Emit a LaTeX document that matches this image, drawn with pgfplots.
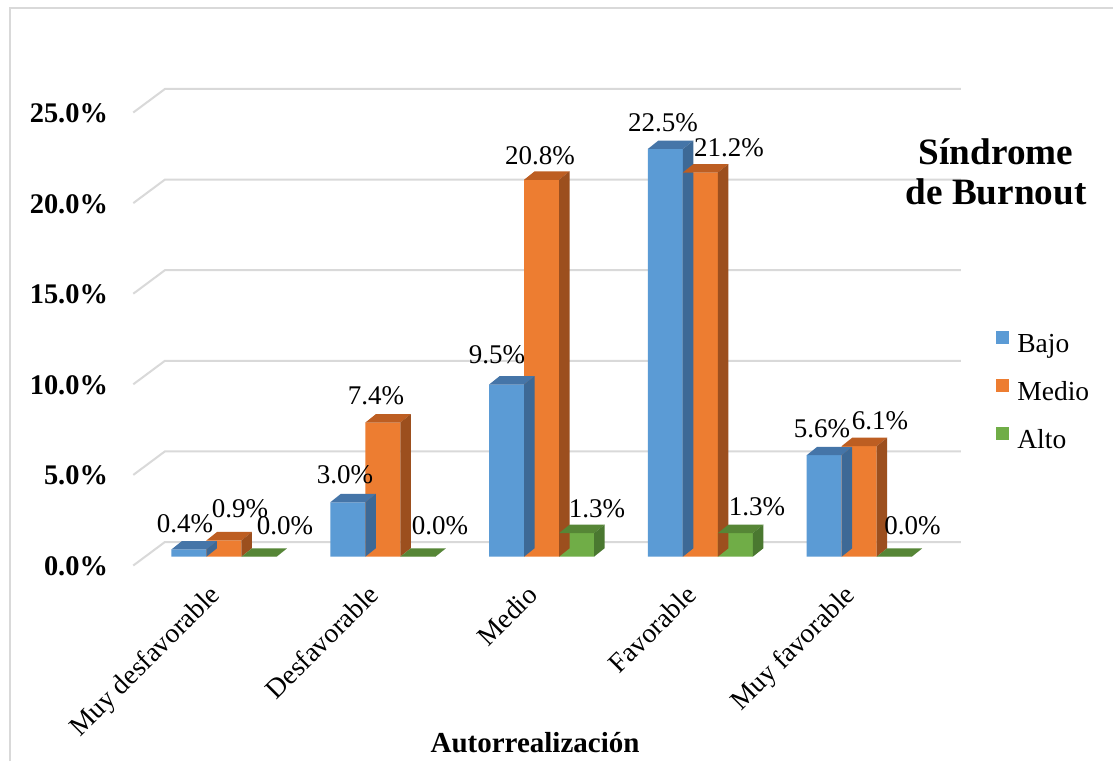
\documentclass[border=0pt]{standalone}
\usepackage{fontspec}
\setmainfont{Liberation Serif}
\usepackage{pgfplots}
\pgfplotsset{compat=1.18}
\usepackage{pgfplotstable}

\definecolor{bajo}{HTML}{5B9BD5}
\definecolor{bajotop}{HTML}{4575A8}
\definecolor{bajoside}{HTML}{3D6996}
\definecolor{medio}{HTML}{ED7D31}
\definecolor{mediotop}{HTML}{BD5E22}
\definecolor{medioside}{HTML}{9C4F1E}
\definecolor{alto}{HTML}{70AD47}
\definecolor{altotop}{HTML}{568636}
\definecolor{altoside}{HTML}{4A7830}
\definecolor{gridgray}{HTML}{D9D9D9}

\pgfkeys{/pgf/number format/assume math mode=true}

% v = percentage; ldx, ldy = offset of the value label (pt) from the top of the bar
\pgfplotstableread{
x v ldx ldy
0 0.4 -2.0 8.7
1 3.0 -1.4 9.65
2 9.5 -4.8 10.3
3 22.5 -1.2 8.5
4 5.6 -1.1 9.1
}\bajo
\pgfplotstableread{
x v ldx ldy
0 0.9 8.0 11.2
1 7.4 -3.4 8.8
2 20.8 -0.8 7.4
3 21.2 14.3 7.8
4 6.1 10.4 8.1
}\medio
\pgfplotstableread{
x v ldx ldy
0 0.0 13.0 10.9
1 0.0 11.1 10.9
2 1.3 10.2 8.05
3 1.3 10.8 9.05
4 0.0 9.2 10.9
}\alto

\pgfdeclareplotmark{none3d}{}
\pgfplotsset{
  % top and side faces of a box whose front face is a bar of width 17.5pt;
  % the bar height comes from the point meta (0..25 mapped to 0..1000)
  faces3d/.style 2 args={
    scatter, only marks, mark=none3d, forget plot, point meta=explicit,
    scatter/@pre marker code/.code={%
      \pgfmathsetmacro\barh{\pgfplotspointmetatransformed*0.2265}%
      \pgfscope
      \pgfsetfillcolor{#1}%
      \pgfpathmoveto{\pgfpoint{-8.75pt}{0pt}}%
      \pgfpathlineto{\pgfpoint{8.75pt}{0pt}}%
      \pgfpathlineto{\pgfpoint{14pt}{4.2pt}}%
      \pgfpathlineto{\pgfpoint{-3.5pt}{4.2pt}}%
      \pgfpathclose
      \pgfusepath{fill}%
      \pgfsetfillcolor{#2}%
      \pgfpathmoveto{\pgfpoint{8.75pt}{0pt}}%
      \pgfpathlineto{\pgfpoint{14pt}{4.2pt}}%
      \pgfpathlineto{\pgfpoint{14pt}{4.2pt-\barh*1pt}}%
      \pgfpathlineto{\pgfpoint{8.75pt}{-\barh*1pt}}%
      \pgfpathclose
      \pgfusepath{fill}%
      \endpgfscope
    },
    scatter/@post marker code/.code={},
  },
  front/.style={ybar, bar width=17.5pt, bar shift=0pt, fill=#1, draw=none, forget plot},
  vallabels/.style={
    only marks, mark=none3d, forget plot, point meta=explicit,
    nodes near coords={\pgfmathprintnumber[fixed,fixed zerofill,precision=1]{\pgfplotspointmeta}\%},
    every node near coord/.append style={anchor=base, inner sep=0pt, text=black,
      font=\fontsize{13.5pt}{15pt}\selectfont},
  },
  gridline/.style={gridgray, line width=1pt, forget plot},
}

\begin{document}
\begin{tikzpicture}
\useasboundingbox (0,0) rectangle (556.5pt,380.5pt);
\fill[white] (0,0) rectangle (556.5pt,380.5pt);
\draw[gridgray, line width=0.8pt] (5pt,0pt) -- (5pt,376.5pt) -- (556.5pt,376.5pt);

\begin{axis}[
  at={(66.65pt,97.75pt)}, anchor=south west,
  x=79.4pt, y=9.06pt,
  xmin=-0.571, xmax=4.641, ymin=-0.487, ymax=25.81,
  enlargelimits=false, clip=false,
  point meta min=0, point meta max=25,
  axis line style={draw=none}, tick style={draw=none},
  xtick={0,1,2,3,4},
  xticklabels={Muy desfavorable, Desfavorable, Medio, Favorable, Muy favorable},
  xticklabel style={xshift=-3.5pt, yshift=-13.25pt, rotate=45, anchor=east, inner sep=0pt,
    text height=9.5pt, text depth=3pt, font=\fontsize{13.75pt}{15pt}\selectfont},
  ytick={-0.487,4.513,9.513,14.513,19.513,24.513},
  yticklabels={0.0\%,5.0\%,10.0\%,15.0\%,20.0\%,25.0\%},
  yticklabel style={anchor=base east, inner sep=0pt, xshift=-12.5pt, yshift=-5pt,
    font=\fontsize{14.2pt}{16pt}\selectfont\bfseries},
  legend image code/.code={\fill[#1] (0pt,0.75pt) rectangle (6.5pt,7.25pt);},
  legend cell align=left,
  legend style={at={(1.0423,0.4921)}, anchor=north west, draw=none, fill=none,
    inner sep=0pt, row sep=10.5pt, font=\fontsize{13.75pt}{15pt}\selectfont,
    nodes={inner sep=0pt, text height=9.5pt, text depth=3pt},
    /tikz/every odd column/.append style={column sep=4pt}},
]
\addlegendimage{fill=bajo, draw=none}\addlegendentry{Bajo}
\addlegendimage{fill=medio, draw=none}\addlegendentry{Medio}
\addlegendimage{fill=alto, draw=none}\addlegendentry{Alto}

% back-wall gridlines with their receding floor edge
\addplot[gridline] coordinates {(-0.571,-0.487) (-0.372,0.81) (4.641,0.81)};
\addplot[gridline] coordinates {(-0.571,4.513) (-0.372,5.81) (4.641,5.81)};
\addplot[gridline] coordinates {(-0.571,9.513) (-0.372,10.81) (4.641,10.81)};
\addplot[gridline] coordinates {(-0.571,14.513) (-0.372,15.81) (4.641,15.81)};
\addplot[gridline] coordinates {(-0.571,19.513) (-0.372,20.81) (4.641,20.81)};
\addplot[gridline] coordinates {(-0.571,24.513) (-0.372,25.81) (4.641,25.81)};

% Bajo
\addplot[front=bajo] table[x expr=\thisrow{x}-0.2204, y=v] {\bajo};
\addplot[faces3d={bajotop}{bajoside}] table[x expr=\thisrow{x}-0.2204, y=v, meta=v] {\bajo};
% Medio
\addplot[front=medio] table[x=x, y=v] {\medio};
\addplot[faces3d={mediotop}{medioside}] table[x=x, y=v, meta=v] {\medio};
% Alto
\addplot[front=alto] table[x expr=\thisrow{x}+0.2204, y=v] {\alto};
\addplot[faces3d={altotop}{altoside}] table[x expr=\thisrow{x}+0.2204, y=v, meta=v] {\alto};

% value labels above the bars
\addplot[vallabels] table[x expr=\thisrow{x}-0.2204+\thisrow{ldx}/79.4,
  y expr=\thisrow{v}+\thisrow{ldy}/9.06, meta=v] {\bajo};
\addplot[vallabels] table[x expr=\thisrow{x}+\thisrow{ldx}/79.4,
  y expr=\thisrow{v}+\thisrow{ldy}/9.06, meta=v] {\medio};
\addplot[vallabels] table[x expr=\thisrow{x}+0.2204+\thisrow{ldx}/79.4,
  y expr=\thisrow{v}+\thisrow{ldy}/9.06, meta=v] {\alto};
\end{axis}

\node[anchor=base, font=\fontsize{18.6pt}{20pt}\selectfont\bfseries] at (498pt,298pt) {Síndrome};
\node[anchor=base, font=\fontsize{18.6pt}{20pt}\selectfont\bfseries] at (498pt,278pt) {de Burnout};
\node[anchor=base, font=\fontsize{14.5pt}{16pt}\selectfont\bfseries] at (267.5pt,4.5pt) {Autorrealización};
\end{tikzpicture}
\end{document}
